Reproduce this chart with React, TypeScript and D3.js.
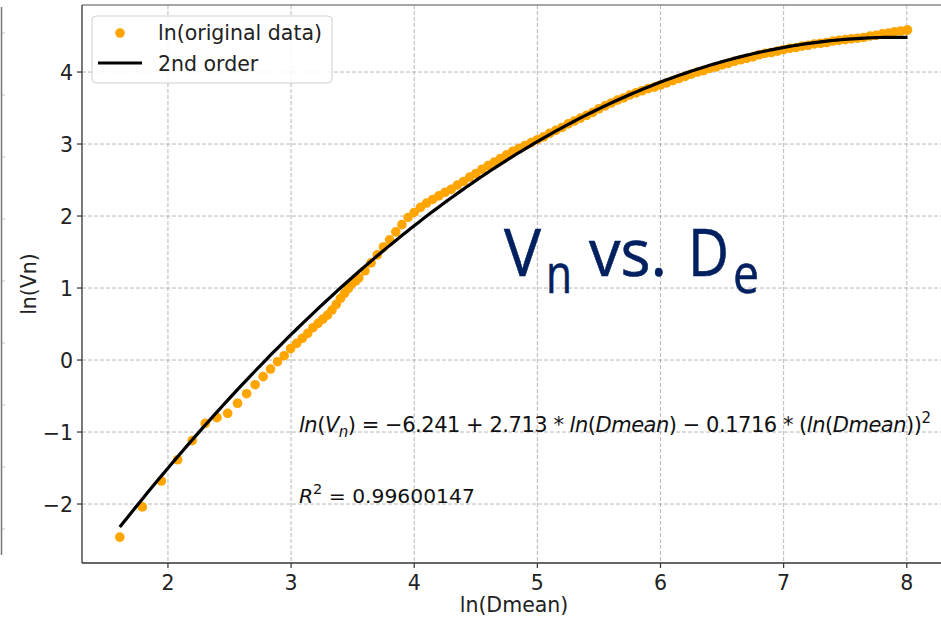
import React from "react";
import * as d3 from "d3";

// ln(D) for the sparse low-D observations and the dense tail
const lnDmean: number[] = [
  1.609, 1.792, 1.946, 2.079, 2.197, 2.303, 2.398, 2.485, 2.565, 2.639,
  2.708, 2.773, 2.833, 2.890, 2.944, 2.996, 3.045, 3.091, 3.135, 3.178,
  3.219, 3.258, 3.296, 3.332, 3.367, 3.401, 3.434, 3.466, 3.497, 3.526,
  3.55, 3.60, 3.65, 3.70, 3.75, 3.80, 3.85, 3.90, 3.95, 4.00,
  4.05, 4.10, 4.15, 4.20, 4.25, 4.30, 4.35, 4.40, 4.45, 4.50,
  4.55, 4.60, 4.65, 4.70, 4.75, 4.80, 4.85, 4.90, 4.95, 5.00,
  5.05, 5.10, 5.15, 5.20, 5.25, 5.30, 5.35, 5.40, 5.45, 5.50,
  5.55, 5.60, 5.65, 5.70, 5.75, 5.80, 5.85, 5.90, 5.95, 6.00,
  6.05, 6.10, 6.15, 6.20, 6.25, 6.30, 6.35, 6.40, 6.45, 6.50,
  6.55, 6.60, 6.65, 6.70, 6.75, 6.80, 6.85, 6.90, 6.95, 7.00,
  7.05, 7.10, 7.15, 7.20, 7.25, 7.30, 7.35, 7.40, 7.45, 7.50,
  7.55, 7.60, 7.65, 7.70, 7.75, 7.80, 7.85, 7.90, 7.95, 8.00, 8.006,
];

const lnVn: number[] = [
  -2.46, -2.04, -1.68, -1.385, -1.12, -0.88, -0.80, -0.74, -0.60, -0.468,
  -0.343, -0.231, -0.125, -0.023, 0.06, 0.158, 0.231, 0.301, 0.37, 0.449,
  0.509, 0.569, 0.625, 0.694, 0.773, 0.856, 0.926, 0.995, 1.065, 1.10,
  1.14, 1.24, 1.35, 1.46, 1.57, 1.67, 1.78, 1.88, 1.98, 2.05,
  2.12, 2.18, 2.23, 2.28, 2.33, 2.37, 2.43, 2.48, 2.54, 2.59,
  2.65, 2.70, 2.75, 2.80, 2.85, 2.90, 2.94, 2.98, 3.02, 3.06,
  3.10, 3.15, 3.19, 3.23, 3.28, 3.32, 3.36, 3.40, 3.44, 3.49,
  3.53, 3.57, 3.61, 3.64, 3.68, 3.71, 3.74, 3.77, 3.79, 3.82,
  3.85, 3.88, 3.91, 3.94, 3.97, 4.00, 4.02, 4.05, 4.07, 4.10,
  4.12, 4.15, 4.17, 4.19, 4.21, 4.24, 4.26, 4.27, 4.29, 4.31,
  4.33, 4.34, 4.36, 4.37, 4.39, 4.40, 4.41, 4.43, 4.44, 4.45,
  4.46, 4.47, 4.48, 4.50, 4.51, 4.53, 4.54, 4.56, 4.57, 4.58, 4.585,
];

// 2nd order fit coefficients: c0 + c1*x + c2*x^2
const fitCoefficients: number[] = [-6.241, 2.713, -0.1716];
const rSquared = "0.99600147";

const xTicks: number[] = [2, 3, 4, 5, 6, 7, 8];
const yTicks: number[] = [-2, -1, 0, 1, 2, 3, 4];

const W = 941;
const H = 619;
const left = 82;
const right = 941;
const top = 5;
const bottom = 563;

const FONT = "'DejaVu Sans', sans-serif";
const ORANGE = "#ffa500";
const NAVY = "#002060";
const FS = 20.5;

const fmt = (v: number) => (v < 0 ? "\u2212" + Math.abs(v) : String(v));

export default function App() {
  const x = d3.scaleLinear().domain([1.302, 8.278]).range([left, right]);
  const y = d3.scaleLinear().domain([-2.819, 4.931]).range([bottom, top]);

  const points = lnDmean.map((d, i) => ({ x: d, y: lnVn[i] }));

  const x0 = lnDmean[0];
  const x1 = lnDmean[lnDmean.length - 1];
  const fit = (v: number) =>
    fitCoefficients[0] + fitCoefficients[1] * v + fitCoefficients[2] * v * v;
  const fitX = d3.range(0, 201).map((k) => x0 + ((x1 - x0) * k) / 200);
  const line = d3
    .line<number>()
    .x((v) => x(v))
    .y((v) => y(fit(v)))
    .curve(d3.curveLinear);

  // small tick marks of the neighbouring panel on the far left
  const sideTicks = d3.range(0, 9).map((k) => 33 + k * 62);

  return (
    <svg
      width={W}
      height={H}
      style={{ position: "absolute", left: 0, top: 0, background: "#fff" }}
      fontFamily={FONT}
    >
      <rect width={W} height={H} fill="#fff" />

      {/* neighbouring panel edge */}
      <line x1={1.5} x2={1.5} y1={7} y2={555} stroke="#777" strokeWidth={1.5} />
      {sideTicks.map((t) => (
        <line key={t} x1={2} x2={5} y1={t} y2={t} stroke="#bbb" strokeWidth={1} />
      ))}

      {/* grid */}
      <g stroke="#b0b0b0" strokeWidth={0.9} strokeDasharray="4,2">
        {xTicks.map((t) => (
          <line key={"gx" + t} x1={x(t)} x2={x(t)} y1={top} y2={bottom} />
        ))}
        {yTicks.map((t) => (
          <line key={"gy" + t} x1={left} x2={right} y1={y(t)} y2={y(t)} />
        ))}
      </g>

      {/* scatter */}
      <g fill={ORANGE}>
        {points.map((p, i) => (
          <circle key={i} cx={x(p.x)} cy={y(p.y)} r={4.8} />
        ))}
      </g>

      {/* fitted curve */}
      <path d={line(fitX) || ""} fill="none" stroke="#000" strokeWidth={3.2} />

      {/* spines */}
      <line x1={left} x2={right} y1={top} y2={top} stroke="#888" strokeWidth={1.5} />
      <line x1={left} x2={left} y1={top} y2={bottom} stroke="#333" strokeWidth={1.3} />
      <line x1={left} x2={right} y1={bottom} y2={bottom} stroke="#333" strokeWidth={1.3} />

      {/* x ticks */}
      {xTicks.map((t) => (
        <g key={"xt" + t}>
          <line x1={x(t)} x2={x(t)} y1={bottom} y2={bottom + 5} stroke="#333" strokeWidth={1.2} />
          <text x={x(t)} y={590} textAnchor="middle" fontSize={FS} fill="#222">
            {fmt(t)}
          </text>
        </g>
      ))}
      {/* y ticks */}
      {yTicks.map((t) => (
        <g key={"yt" + t}>
          <line x1={left - 5} x2={left} y1={y(t)} y2={y(t)} stroke="#333" strokeWidth={1.2} />
          <text x={73} y={y(t) + 7.5} textAnchor="end" fontSize={FS} fill="#222">
            {fmt(t)}
          </text>
        </g>
      ))}

      {/* axis titles */}
      <text x={514} y={612} textAnchor="middle" fontSize={FS} fill="#222">
        ln(Dmean)
      </text>
      <text
        transform={`translate(36,${(top + bottom) / 2}) rotate(-90)`}
        textAnchor="middle"
        fontSize={FS}
        fill="#222"
      >
        ln(Vn)
      </text>

      {/* legend */}
      <rect x={92} y={16} width={240} height={67} rx={4} fill="#fff" fillOpacity={0.85} stroke="#d0d0d0" strokeWidth={1} />
      <circle cx={120} cy={33} r={4.8} fill={ORANGE} />
      <line x1={98} x2={142} y1={63} y2={63} stroke="#000" strokeWidth={3.2} />
      <text x={158} y={40} fontSize={FS} fill="#222">ln(original data)</text>
      <text x={158} y={71} fontSize={FS} fill="#222">2nd order</text>

      {/* fit equation */}
      <text x={299} y={432} fontSize={21} fill="#111" textLength={632} lengthAdjust="spacing">
        <tspan fontStyle="italic">ln</tspan>
        <tspan>(</tspan>
        <tspan fontStyle="italic">V</tspan>
        <tspan fontStyle="italic" fontSize={15} dy={5}>n</tspan>
        <tspan dy={-5}>)</tspan>
        <tspan>{" = \u2212" + Math.abs(fitCoefficients[0]) + " + " + fitCoefficients[1] + " * "}</tspan>
        <tspan fontStyle="italic">ln</tspan>
        <tspan>(</tspan>
        <tspan fontStyle="italic">Dmean</tspan>
        <tspan>{") \u2212 " + Math.abs(fitCoefficients[2]) + " * ("}</tspan>
        <tspan fontStyle="italic">ln</tspan>
        <tspan>(</tspan>
        <tspan fontStyle="italic">Dmean</tspan>
        <tspan>))</tspan>
        <tspan fontSize={15} dy={-9}>2</tspan>
      </text>
      <text x={299} y={503} fontSize={20.3} fill="#111">
        <tspan fontStyle="italic">R</tspan>
        <tspan fontSize={14.5} dy={-9}>2</tspan>
        <tspan dy={9}>{" = " + rSquared}</tspan>
      </text>

      {/* title overlay */}
      <g fill={NAVY} stroke={NAVY} strokeWidth={0.6} fontFamily="'Open Sans', sans-serif">
        <text x={504} y={276} fontSize={66} textLength={37} lengthAdjust="spacingAndGlyphs">V</text>
        <text x={546} y={293} fontSize={54} textLength={26} lengthAdjust="spacingAndGlyphs">n</text>
        <text x={589} y={276} fontSize={66} textLength={78} lengthAdjust="spacingAndGlyphs">vs.</text>
        <text x={688} y={276} fontSize={66} textLength={41} lengthAdjust="spacingAndGlyphs">D</text>
        <text x={733} y={293} fontSize={54} textLength={26} lengthAdjust="spacingAndGlyphs">e</text>
      </g>
    </svg>
  );
}
